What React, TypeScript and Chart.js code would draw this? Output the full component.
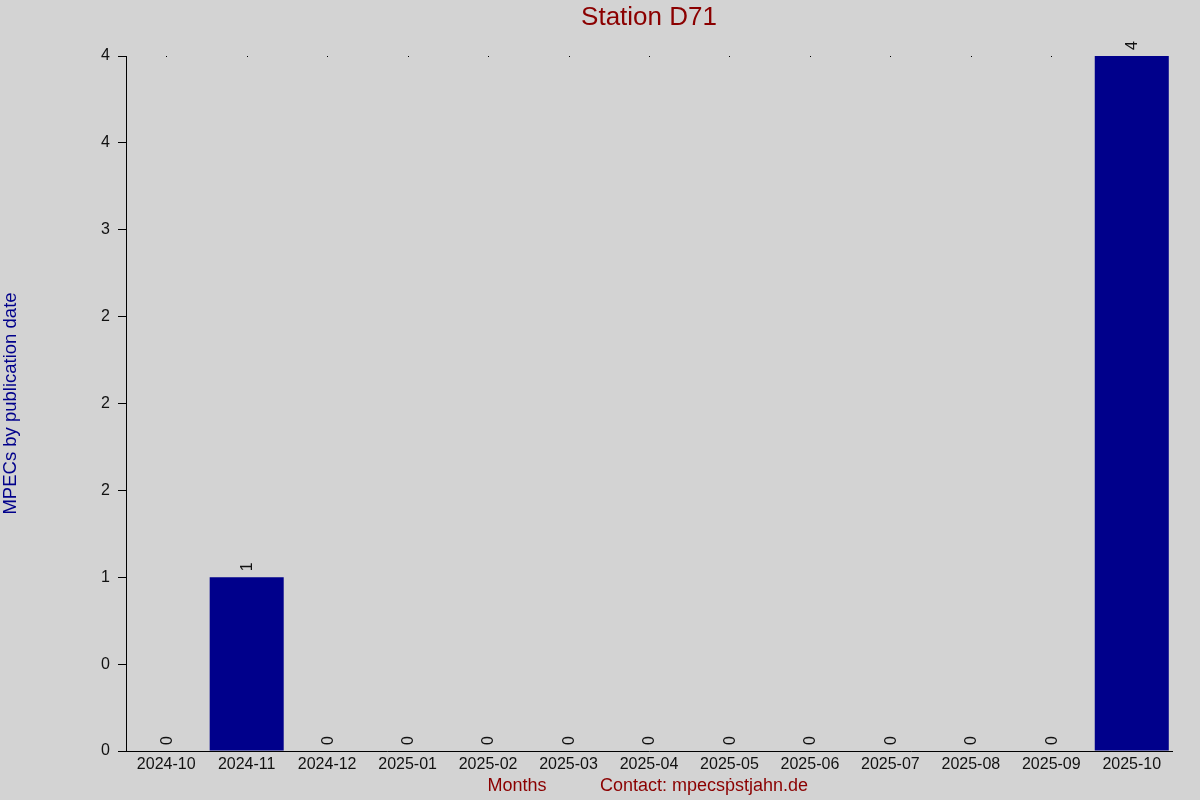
import React, { useEffect, useRef } from "react";
import Chart from "chart.js/auto";

const months = [
  "2024-10", "2024-11", "2024-12", "2025-01", "2025-02", "2025-03", "2025-04",
  "2025-05", "2025-06", "2025-07", "2025-08", "2025-09", "2025-10",
];
const mpecCounts = [0, 1, 0, 0, 0, 0, 0, 0, 0, 0, 0, 0, 4];
// the original axis rounds its half-step ticks to whole numbers
const yTickLabels = ["0", "0", "1", "2", "2", "2", "3", "4", "4"];

const chartTitle = "Station D71";
const yTitle = "MPECs by publication date";
const xTitle = "Months";
const contactText = "Contact: mpecsṗstjahn.de";

const FONT = "Arial, 'Liberation Sans', sans-serif";

export default function App() {
  const canvasRef = useRef<HTMLCanvasElement | null>(null);
  const chartRef = useRef<Chart | null>(null);

  useEffect(() => {
    if (!canvasRef.current) return;
    if (chartRef.current) chartRef.current.destroy();

    const ctx = canvasRef.current.getContext("2d");
    if (!ctx) return;

    const backgroundPlugin = {
      id: "bgFill",
      beforeDraw(chart: any) {
        const c = chart.ctx;
        c.save();
        c.fillStyle = "#d3d3d3";
        c.fillRect(0, 0, chart.width, chart.height);
        c.restore();
      },
    };

    // little dots along the top edge at every category
    const topDotsPlugin = {
      id: "topDots",
      beforeDatasetsDraw(chart: any) {
        const c = chart.ctx;
        const x = chart.scales.x;
        const top = chart.chartArea.top;
        c.save();
        c.fillStyle = "#000";
        months.forEach((_, i) => {
          const px = Math.round(x.getPixelForValue(i));
          c.fillRect(px, top, 1, 1);
        });
        c.restore();
      },
    };

    const textPlugin = {
      id: "texts",
      afterDraw(chart: any) {
        const c = chart.ctx;
        const area = chart.chartArea;
        c.save();

        c.font = `26px ${FONT}`;
        c.fillStyle = "#8b0000";
        c.textAlign = "center";
        c.textBaseline = "middle";
        c.fillText(chartTitle, (area.left + area.right) / 2, 18);

        c.font = `18px ${FONT}`;
        c.fillText(xTitle, 517, 786);
        c.fillText(contactText, 704, 786);

        c.font = `18.5px ${FONT}`;
        c.fillStyle = "#00008b";
        c.translate(11, (area.top + area.bottom) / 2);
        c.rotate(-Math.PI / 2);
        c.fillText(yTitle, 0, 0);
        c.restore();

        // rotated value labels above each bar
        const meta = chart.getDatasetMeta(0);
        c.save();
        c.font = `16px ${FONT}`;
        c.fillStyle = "#111";
        c.textAlign = "left";
        c.textBaseline = "middle";
        meta.data.forEach((bar: any, i: number) => {
          c.save();
          c.translate(bar.x + 1, bar.y - 6);
          c.rotate(-Math.PI / 2);
          c.fillText(String(mpecCounts[i]), 0, 0);
          c.restore();
        });
        c.restore();
      },
    };

    chartRef.current = new Chart(ctx, {
      type: "bar",
      data: {
        labels: months,
        datasets: [
          {
            data: mpecCounts,
            backgroundColor: "#00008b",
            borderWidth: 0,
            barPercentage: 0.92,
            categoryPercentage: 1,
          },
        ],
      },
      options: {
        responsive: false,
        animation: false,
        layout: { padding: { top: 56, right: 28, left: 0, bottom: 0 } },
        plugins: {
          legend: { display: false },
          tooltip: { enabled: false },
          title: { display: false },
        },
        scales: {
          x: {
            offset: true,
            grid: { display: false, drawTicks: false },
            border: { display: true, color: "#000", width: 1 },
            ticks: {
              color: "#111",
              font: { family: FONT, size: 16 },
              padding: 4,
              maxRotation: 0,
              autoSkip: false,
            },
            afterFit(scale: any) {
              scale.height = 49;
            },
          },
          y: {
            min: 0,
            max: 4,
            grid: {
              drawOnChartArea: false,
              drawTicks: true,
              tickLength: 8,
              color: "#000",
            },
            border: { display: true, color: "#000", width: 1 },
            ticks: {
              stepSize: 0.5,
              color: "#111",
              font: { family: FONT, size: 16 },
              padding: 8,
              callback: (_v: any, index: number) => yTickLabels[index],
            },
            afterFit(scale: any) {
              scale.width = 126;
            },
          },
        },
      },
      plugins: [backgroundPlugin, topDotsPlugin, textPlugin],
    });

    return () => {
      if (chartRef.current) {
        chartRef.current.destroy();
        chartRef.current = null;
      }
    };
  }, []);

  return (
    <div style={{ position: "fixed", left: 0, top: 0, width: 1200, height: 800 }}>
      <canvas ref={canvasRef} width={1200} height={800} style={{ width: 1200, height: 800 }} />
    </div>
  );
}
